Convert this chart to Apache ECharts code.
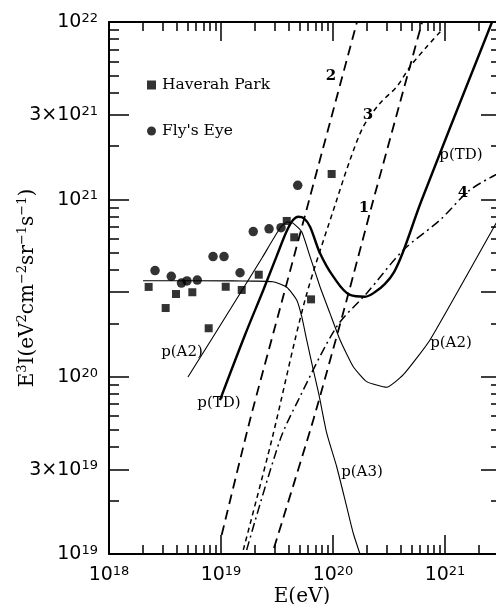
<!DOCTYPE html>
<html>
<head>
<meta charset="utf-8">
<script src="https://cdn.jsdelivr.net/npm/echarts@6/dist/echarts.min.js"></script>
<style>
html, body { margin: 0; padding: 0; background: #fff; }
#chart { width: 496px; height: 604px; }
</style>
</head>
<body>
<div id="chart"></div>
<script>
// all values are log10: E in eV, E^3 I in eV^2 cm^-2 sr^-1 s^-1
var haverahLogE = [18.354, 18.506, 18.598, 18.744, 18.890, 19.042, 19.185, 19.337, 19.587, 19.654, 19.804, 19.988]
var haverahLogF = [20.506, 20.387, 20.466, 20.476, 20.273, 20.507, 20.489, 20.575, 20.878, 20.786, 20.436, 21.143]
var flysEyeLogE = [18.411, 18.556, 18.647, 18.696, 18.788, 18.929, 19.027, 19.170, 19.288, 19.429, 19.536, 19.685]
var flysEyeLogF = [20.598, 20.566, 20.528, 20.540, 20.545, 20.677, 20.677, 20.586, 20.818, 20.834, 20.840, 21.079]

// model curves
var pTdLogE = [18.991, 19.214, 19.378, 19.497, 19.587, 19.643, 19.690, 19.741, 19.795, 19.884, 20.003, 20.152, 20.286, 20.375, 20.464, 20.545, 20.625, 20.792, 21.420]
var pTdLogF = [19.868, 20.235, 20.489, 20.680, 20.821, 20.883, 20.902, 20.893, 20.846, 20.696, 20.564, 20.461, 20.451, 20.477, 20.523, 20.590, 20.703, 20.996, 22.0]
var pA2LogE = [18.705, 19.134, 19.366, 19.527, 19.589, 19.643, 19.720, 19.795, 19.884, 19.973, 20.063, 20.181, 20.301, 20.479, 20.628, 20.866, 21.431, 21.5]
var pA2LogF = [19.998, 20.432, 20.669, 20.838, 20.872, 20.866, 20.818, 20.677, 20.507, 20.357, 20.207, 20.056, 19.972, 19.940, 20.011, 20.207, 20.837, 20.913]
var pA3LogE = [18.304, 19.100, 19.286, 19.464, 19.587, 19.676, 19.721, 19.765, 19.824, 19.875, 19.944, 20.033, 20.122, 20.181, 20.241]
var pA3LogF = [20.541, 20.540, 20.539, 20.535, 20.504, 20.432, 20.338, 20.207, 20.038, 19.897, 19.681, 19.492, 19.267, 19.117, 19.0]
var curve1LogE = [19.473, 19.824, 20.122, 20.360, 20.796]
var curve1LogF = [19.034, 19.756, 20.432, 20.996, 22.0]
var curve2LogE = [19.006, 19.259, 19.547, 20.214]
var curve2LogF = [19.107, 19.756, 20.432, 22.0]
var curve3LogE = [19.199, 19.453, 19.750, 20.033, 20.152, 20.271, 20.420, 20.569, 20.688, 20.837, 20.973]
var curve3LogF = [19.023, 19.643, 20.432, 20.996, 21.222, 21.410, 21.542, 21.635, 21.748, 21.861, 21.955]
var curve4LogE = [19.229, 19.527, 19.690, 20.033, 20.301, 20.628, 20.955, 21.223, 21.5]
var curve4LogF = [19.023, 19.643, 19.868, 20.282, 20.470, 20.714, 20.883, 21.053, 21.154]

// tick labels and tick marks
var xLabelValues = [1e18, 1e19, 1e20, 1e21]
var yLabelValues = [1e19, 3e19, 1e20, 1e21, 3e21, 1e22]
var xLongTicks = [1e18, 1e19, 1e20, 1e21]
var yLongTicks = [1e19, 3e19, 1e20, 3e20, 1e21, 3e21, 1e22]
var xMinorMult = [2, 3, 4, 5, 6, 7, 8, 9]
var yMinorMult = [2, 4, 5, 6, 7, 8, 9]

var X_MIN = 18, X_MAX = 21.5, Y_MIN = 19, Y_MAX = 22

function zip (xs, ys) {
    return xs.map(function (x, i) { return [x, ys[i]] })
}
function toLog (vals) {
    return vals.map(function (v) { return Math.log10(v) })
}
function minorTicks (from, to, mult) {
    var out = []
    for (var n = from; n < to; n++) {
        mult.forEach(function (k) { out.push(n + Math.log10(k)) })
    }
    return out
}
function powLabel (v) {
    var n = Math.floor(v + 1e-6)
    var m = Math.round(Math.pow(10, v - n))
    return '{b|' + (m > 1 ? m + '×' : '') + '10}{sup|' + n + '}'
}

var tickRich = {
    b: { fontFamily: 'DejaVu Sans', fontSize: 19, color: '#000', lineHeight: 20, verticalAlign: 'bottom' },
    sup: { fontFamily: 'DejaVu Sans', fontSize: 13, color: '#000', lineHeight: 14, padding: [0, 0, 16, 0], verticalAlign: 'top' }
}
var nameRich = {
    b: { fontFamily: 'DejaVu Serif', fontSize: 20, color: '#000', lineHeight: 22, verticalAlign: 'bottom' },
    sup: { fontFamily: 'DejaVu Serif', fontSize: 13, color: '#000', lineHeight: 14, padding: [0, 0, 12, 0], verticalAlign: 'top' }
}

var AXIS_LINE = { show: true, onZero: false, lineStyle: { color: '#000', width: 2 } }
var NO_LINE = { show: false }
var TICK_STYLE = { color: '#000', width: 1.5 }

function makeAxis (pos, min, max, line, ticks, tickLen, label, extra) {
    var ax = {
        type: 'value',
        position: pos,
        min: min,
        max: max,
        axisLine: line,
        axisTick: { show: true, inside: true, length: tickLen, customValues: ticks, lineStyle: TICK_STYLE },
        axisLabel: label || { show: false },
        splitLine: { show: false }
    }
    for (var k in extra || {}) ax[k] = extra[k]
    return ax
}

var xLong = toLog(xLongTicks)
var yLong = toLog(yLongTicks)
var xShort = minorTicks(18, 22, xMinorMult).filter(function (v) { return v <= X_MAX })
var yShort = minorTicks(19, 22, yMinorMult)

var chart = echarts.init(document.getElementById('chart'), null, { renderer: 'canvas' })

chart.setOption({
    animation: false,
    backgroundColor: '#fff',
    grid: { left: 109, top: 22, width: 392, height: 532, containLabel: false, outerBoundsMode: 'none' },
    legend: {
        orient: 'vertical',
        left: 142,
        top: 72,
        itemGap: 30,
        itemWidth: 9,
        itemHeight: 9,
        textStyle: { fontFamily: 'DejaVu Serif', fontSize: 15.5, color: '#000', padding: [0, 0, 0, 1] },
        data: [
            { name: 'Haverah Park', icon: 'rect' },
            { name: 'Fly\'s Eye', icon: 'circle' }
        ]
    },
    xAxis: [
        makeAxis('bottom', X_MIN, X_MAX, AXIS_LINE, xLong, 19, {
            customValues: toLog(xLabelValues), formatter: powLabel, margin: 11, rich: tickRich
        }, {
            name: 'E(eV)', nameLocation: 'middle', nameGap: 33, nameMoveOverlap: false,
            nameTextStyle: { fontFamily: 'DejaVu Serif', fontSize: 20, color: '#000', padding: [0, 6, 0, 0] }
        }),
        makeAxis('bottom', X_MIN, X_MAX, NO_LINE, xShort, 9),
        makeAxis('top', X_MIN, X_MAX, AXIS_LINE, xLong, 19),
        makeAxis('top', X_MIN, X_MAX, NO_LINE, xShort, 9)
    ],
    yAxis: [
        makeAxis('left', Y_MIN, Y_MAX, AXIS_LINE, yLong, 20, {
            customValues: toLog(yLabelValues), formatter: powLabel, margin: 11, rich: tickRich
        }, {
            name: '{b|E}{sup|3}{b|I(eV}{sup|2}{b|cm}{sup|−2}{b|sr}{sup|−1}{b|s}{sup|−1}{b|)}',
            nameLocation: 'middle', nameRotate: 90, nameGap: 71, nameMoveOverlap: false,
            nameTextStyle: { rich: nameRich }
        }),
        makeAxis('left', Y_MIN, Y_MAX, NO_LINE, yShort, 10),
        makeAxis('right', Y_MIN, Y_MAX, AXIS_LINE, yLong, 20),
        makeAxis('right', Y_MIN, Y_MAX, NO_LINE, yShort, 10)
    ],
    series: [
        {
            name: 'p(A3)', type: 'line', data: zip(pA3LogE, pA3LogF), showSymbol: false, smooth: 0.2,
            lineStyle: { color: '#000', width: 1.1 }
        },
        {
            name: 'p(A2)', type: 'line', data: zip(pA2LogE, pA2LogF), showSymbol: false, smooth: 0.15,
            lineStyle: { color: '#000', width: 1.1 }
        },
        {
            name: 'p(TD)', type: 'line', data: zip(pTdLogE, pTdLogF), showSymbol: false, smooth: 0.35,
            lineStyle: { color: '#000', width: 2.4 }
        },
        {
            name: '1', type: 'line', data: zip(curve1LogE, curve1LogF), showSymbol: false, smooth: 0.2,
            lineStyle: { color: '#000', width: 1.8, type: [10, 6] }
        },
        {
            name: '2', type: 'line', data: zip(curve2LogE, curve2LogF), showSymbol: false, smooth: 0.2,
            lineStyle: { color: '#000', width: 1.8, type: [10, 6] }
        },
        {
            name: '3', type: 'line', data: zip(curve3LogE, curve3LogF), showSymbol: false, smooth: 0.3,
            lineStyle: { color: '#000', width: 1.5, type: [5, 4] }
        },
        {
            name: '4', type: 'line', data: zip(curve4LogE, curve4LogF), showSymbol: false, smooth: 0.3,
            lineStyle: { color: '#000', width: 1.5, type: [9, 4, 2, 4] }
        },
        {
            name: 'Haverah Park', type: 'scatter', data: zip(haverahLogE, haverahLogF),
            symbol: 'rect', symbolSize: 8, itemStyle: { color: '#000' }, z: 5
        },
        {
            name: 'Fly\'s Eye', type: 'scatter', data: zip(flysEyeLogE, flysEyeLogF),
            symbol: 'circle', symbolSize: 9.5, itemStyle: { color: '#000' }, z: 5
        }
    ],
    graphic: [
        { type: 'text', x: 331, y: 76, style: { text: '2', font: 'bold 15px "DejaVu Serif"', fill: '#000', align: 'center', verticalAlign: 'middle' } },
        { type: 'text', x: 368, y: 115, style: { text: '3', font: 'bold 15px "DejaVu Serif"', fill: '#000', align: 'center', verticalAlign: 'middle' } },
        { type: 'text', x: 364, y: 208, style: { text: '1', font: 'bold 15px "DejaVu Serif"', fill: '#000', align: 'center', verticalAlign: 'middle' } },
        { type: 'text', x: 463, y: 193, style: { text: '4', font: 'bold 15px "DejaVu Serif"', fill: '#000', align: 'center', verticalAlign: 'middle' } },
        { type: 'text', x: 461, y: 155, style: { text: 'p(TD)', font: '15px "DejaVu Serif"', fill: '#000', align: 'center', verticalAlign: 'middle' } },
        { type: 'text', x: 219, y: 403, style: { text: 'p(TD)', font: '15px "DejaVu Serif"', fill: '#000', align: 'center', verticalAlign: 'middle' } },
        { type: 'text', x: 182, y: 352, style: { text: 'p(A2)', font: '15px "DejaVu Serif"', fill: '#000', align: 'center', verticalAlign: 'middle' } },
        { type: 'text', x: 451, y: 343, style: { text: 'p(A2)', font: '15px "DejaVu Serif"', fill: '#000', align: 'center', verticalAlign: 'middle' } },
        { type: 'text', x: 362, y: 472, style: { text: 'p(A3)', font: '15px "DejaVu Serif"', fill: '#000', align: 'center', verticalAlign: 'middle' } }
    ]
})
</script>
</body>
</html>
